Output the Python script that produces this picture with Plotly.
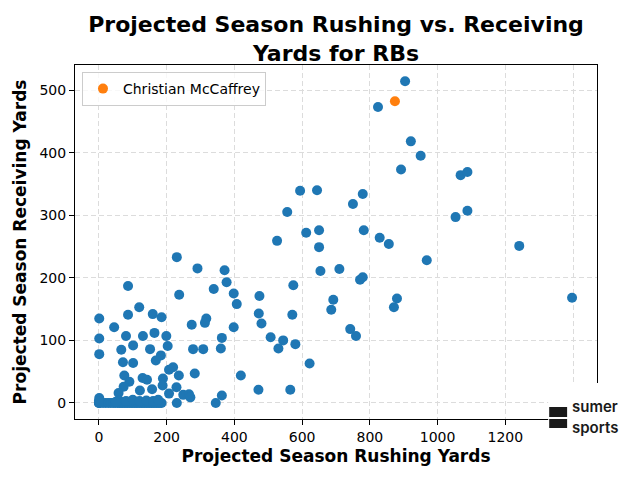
import plotly.graph_objects as go

# projected season rushing / receiving yards
rush_yds = [
    904, 824, 921, 950, 892, 1068, 1088,
    594, 644, 779, 556, 750, 1053, 1088,
    526, 612, 650, 782, 829, 856, 650, 968, 1241,
    710, 654, 771, 779, 880, 871, 1397, 574,
    371, 377, 339, 398, 407, 474, 692, 686,
    742, 759, 472, 480, 571, 398, 317, 313,
    363, 360, 308, 507, 544, 530, 580, 622, 419,
    471, 565, 363, 345,
    230, 291, 86, 237,
    1, 45, 86, 119, 159, 185, 274,
    1, 80, 130, 164, 199, 203, 101, 66, 151, 183, 168,
    1, 71, 101, 278,
    207, 219, 236, 283, 75, 90, 73, 129, 142, 189, 188, 157, 121, 58,
    207, 229, 249, 266, 270, 230, 1,
    0, 0, 3, 12, 20, 28, 35, 42, 48, 55, 60, 65, 70, 75, 80, 85, 90, 95,
    100, 105, 110, 115, 120, 125, 130, 135, 140, 145, 150, 155, 160, 165,
    170, 175, 180, 185,
    60, 80, 100, 120, 140, 160, 175, 50, 0,
]
rec_yds = [
    514, 473, 418, 395, 373, 364, 369,
    339, 340, 334, 305, 318, 297, 307,
    259, 272, 276, 276, 264, 254, 249, 228, 251,
    214, 211, 197, 201, 167, 153, 168, 188,
    212, 193, 182, 175, 158, 171, 165, 149,
    118, 107, 143, 127, 141, 121, 135, 128,
    104, 87, 86, 105, 100, 87, 94, 63, 44,
    21, 21, 12, 0,
    233, 215, 187, 173,
    135, 121, 141, 153, 142, 137, 125,
    103, 107, 107, 112, 107, 91, 92, 85, 86, 76, 68,
    78, 65, 64, 86,
    53, 57, 44, 47, 44, 34, 26, 40, 37, 39, 28, 22, 20, 16,
    15, 25, 13, 14, 9, 0, 8,
    0, 0, 0, 0, 0, 0, 0, 0, 0, 0, 0, 0, 0, 0, 0, 0, 0, 0,
    0, 0, 0, 0, 0, 0, 0, 0, 0, 0, 0, 0, 0, 0,
    0, 0, 0, 0,
    4, 3, 5, 3, 4, 3, 5, 2, 3,
]
cmc_name = "Christian McCaffrey"
cmc_rush = [874]
cmc_rec = [482]

x_ticks = [0, 200, 400, 600, 800, 1000, 1200, 1400]
x_tick_text = ["0", "200", "400", "600", "800", "1000", "1200", ""]
y_ticks = [0, 100, 200, 300, 400, 500]

FONT = "DejaVu Sans"

# the page body adds an 8px margin, so work in screen pixels and shift
OFF = 8
W, H = 640 - OFF, 480 - OFF
# plot area in screen pixels (matplotlib default axes box)
L, R, T, B = 73, 597, 65, 419


def px(x):
    return (x - L) / (R - L)


def py(y):
    return (B - y) / (B - T)


fig = go.Figure()

fig.add_trace(go.Scatter(
    x=rush_yds, y=rec_yds,
    mode="markers",
    marker=dict(color="#1f77b4", size=10, line=dict(width=0)),
    showlegend=False,
    hoverinfo="skip",
))

fig.add_trace(go.Scatter(
    x=cmc_rush, y=cmc_rec,
    mode="markers",
    name=cmc_name,
    marker=dict(color="#ff7f0e", size=10, line=dict(width=0)),
))

axis_common = dict(
    showline=True, linecolor="black", linewidth=1, mirror=True,
    ticks="outside", ticklen=5, tickwidth=1, tickcolor="black",
    showgrid=True, gridcolor="#dcdcdc", griddash="5px,3px", gridwidth=1,
    zeroline=False,
    tickfont=dict(family=FONT, size=14, color="black"),
)

fig.update_xaxes(
    range=[-70.6, 1470.6], tickvals=x_ticks, ticktext=x_tick_text,
    title=dict(text="Projected Season Rushing Yards", standoff=6,
               font=dict(family=FONT, size=17, color="black", weight="bold")),
    **axis_common,
)
fig.update_yaxes(
    range=[-25.6, 540], tickvals=y_ticks,
    title=dict(text="Projected Season Receiving Yards", standoff=8,
               font=dict(family=FONT, size=17, color="black", weight="bold")),
    **axis_common,
)

# logo patch in the bottom right corner
shapes = [
    dict(type="rect", xref="paper", yref="paper", layer="above",
         x0=px(548), x1=px(640), y0=py(445), y1=py(383),
         fillcolor="white", line=dict(width=0)),
    dict(type="rect", xref="paper", yref="paper", layer="above",
         x0=px(549), x1=px(567), y0=py(417), y1=py(407),
         fillcolor="#1a1a1a", line=dict(width=0)),
    dict(type="rect", xref="paper", yref="paper", layer="above",
         x0=px(549), x1=px(567), y0=py(428), y1=py(419),
         fillcolor="#1a1a1a", line=dict(width=0)),
]
fig.update_layout(shapes=shapes)

for txt, yy, anchor in [("sumer", 417, "bottom"), ("sports", 417, "top")]:
    fig.add_annotation(
        x=px(571), y=py(yy), xref="paper", yref="paper",
        xanchor="left", yanchor=anchor, showarrow=False, borderpad=0,
        text=txt, font=dict(family="Inter", size=15, color="#1a1a1a", weight=600),
    )

fig.update_layout(
    width=W, height=H,
    margin=dict(l=L - OFF, r=W - (R - OFF), t=T - OFF, b=H - (B - OFF)),
    paper_bgcolor="white", plot_bgcolor="white",
    title=dict(
        text="Projected Season Rushing vs. Receiving<br>Yards for RBs",
        x=px(335), xanchor="center", xref="paper",
        y=1 - 24 / H, yanchor="top", yref="container",
        font=dict(family=FONT, size=22, color="black", weight="bold"),
    ),
    legend=dict(
        x=px(80), y=py(72), xanchor="left", yanchor="top",
        bordercolor="#cccccc", borderwidth=1, bgcolor="rgba(255,255,255,0.8)",
        font=dict(family=FONT, size=14, color="black"),
    ),
)

fig.write_html("out.html")
